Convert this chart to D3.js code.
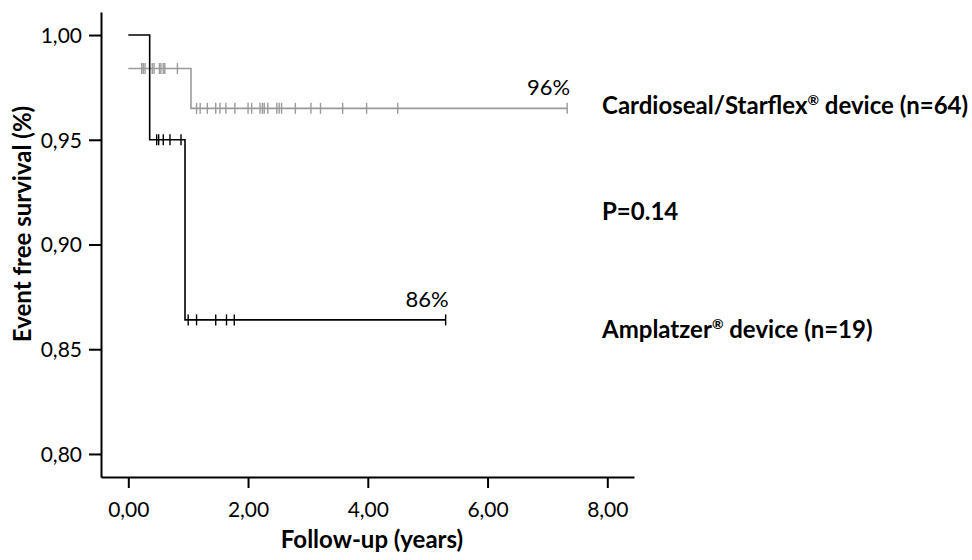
<!DOCTYPE html>
<html><head><meta charset="utf-8">
<script src="https://cdn.jsdelivr.net/npm/d3@7"></script>
<style>
html,body{margin:0;padding:0;background:#fff;}
svg text{font-family:Lato,"Open Sans",sans-serif;}
</style></head>
<body><svg id="chart" width="972" height="560"></svg>
<script>
// ---- data ----
const xTicks = [0, 2, 4, 6, 8];
const yTicks = [0.80, 0.85, 0.90, 0.95, 1.00];

// Amplatzer (black) step curve: [time, survival]
const amplatzerSteps = [[0, 1.00], [0.357, 0.950], [0.947, 0.864], [5.30, 0.864]];
const amplatzerCensor = [[0.474, 0.950], [0.507, 0.950], [0.584, 0.950], [0.696, 0.950], [0.880, 0.950],
  [1.00, 0.864], [1.14, 0.864], [1.46, 0.864], [1.64, 0.864], [1.77, 0.864], [5.30, 0.864]];

// Cardioseal/Starflex (gray) step curve
const cardiosealSteps = [[0, 0.984], [1.047, 0.965], [7.33, 0.965]];
const cardiosealCensorEarly = [0.224, 0.25, 0.28, 0.40, 0.43, 0.52, 0.545, 0.584, 0.61, 0.82];
const cardiosealCensorLate = [1.14, 1.20, 1.32, 1.46, 1.53, 1.63, 1.78, 2.00, 2.06, 2.20, 2.24, 2.27, 2.33,
  2.48, 2.52, 2.56, 2.79, 3.05, 3.21, 3.58, 3.98, 4.50, 7.33];
const cardiosealCensor = cardiosealCensorEarly.map(t => [t, 0.984]).concat(cardiosealCensorLate.map(t => [t, 0.965]));

const endLabels = [{text: "96%", t: 7.33, v: 0.965}, {text: "86%", t: 5.30, v: 0.864}];

// ---- chart ----
const svg = d3.select("#chart");
const x = d3.scaleLinear().domain([-0.456, 8.446]).range([101, 634]);
const y = d3.scaleLinear().domain([0.789, 1.011]).range([477, 12]);
const fmt = d => d.toFixed(2).replace(".", ",");

const xAxis = svg.append("g").attr("transform", "translate(0,477)")
  .call(d3.axisBottom(x).tickValues(xTicks).tickFormat(fmt).tickSize(11).tickSizeOuter(0).tickPadding(7));
const yAxis = svg.append("g").attr("transform", "translate(101,0)")
  .call(d3.axisLeft(y).tickValues(yTicks).tickFormat(fmt).tickSize(12).tickSizeOuter(0).tickPadding(7));
[xAxis, yAxis].forEach(a => {
  a.select(".domain").attr("stroke", "#000").attr("stroke-width", 2);
  a.selectAll(".tick line").attr("stroke", "#000").attr("stroke-width", 2);
  a.selectAll(".tick text").attr("fill", "#000").style("font-size", "21px");
});
xAxis.selectAll(".tick text").attr("dy", "1.05em");
yAxis.selectAll(".tick text").attr("dy", "0.35em");

const stepLine = d3.line().x(d => x(d[0])).y(d => y(d[1])).curve(d3.curveStepAfter);

function drawCurve(steps, censor, color) {
  const g = svg.append("g");
  g.append("path").datum(steps).attr("d", stepLine)
    .attr("fill", "none").attr("stroke", color).attr("stroke-width", 1.6);
  g.selectAll("line.c").data(censor).enter().append("line")
    .attr("x1", d => x(d[0])).attr("x2", d => x(d[0]))
    .attr("y1", d => y(d[1]) - 5.5).attr("y2", d => y(d[1]) + 5.5)
    .attr("stroke", color).attr("stroke-width", 1.4);
}
drawCurve(cardiosealSteps, cardiosealCensor, "#9a9a9a");
drawCurve(amplatzerSteps, amplatzerCensor, "#000");

svg.selectAll("text.end").data(endLabels).enter().append("text")
  .attr("x", d => x(d.t) + 3).attr("y", d => y(d.v) - 13)
  .attr("text-anchor", "end").style("font-size", "22px").attr("fill", "#000").text(d => d.text);

// legend texts
function legend(yPos, main, rest) {
  const t = svg.append("text").attr("x", 602).attr("y", yPos)
    .style("font-size", "24px").style("font-weight", "bold").attr("fill", "#000");
  t.append("tspan").text(main);
  if (rest !== undefined) {
    t.append("tspan").text("®").style("font-size", "14px").attr("dy", "-9");
    t.append("tspan").text(rest).attr("dy", "9");
  }
}
legend(114, "Cardioseal/Starflex", " device (n=64)");
legend(220, "P=0.14");
legend(338, "Amplatzer", " device (n=19)");

// axis titles
svg.append("text").attr("x", 372).attr("y", 548).attr("text-anchor", "middle")
  .style("font-size", "24px").style("font-weight", "bold").text("Follow-up (years)");
svg.append("text").attr("transform", "translate(31,224) rotate(-90)").attr("text-anchor", "middle")
  .style("font-size", "24px").style("font-weight", "bold").text("Event free survival (%)");
</script></body></html>
